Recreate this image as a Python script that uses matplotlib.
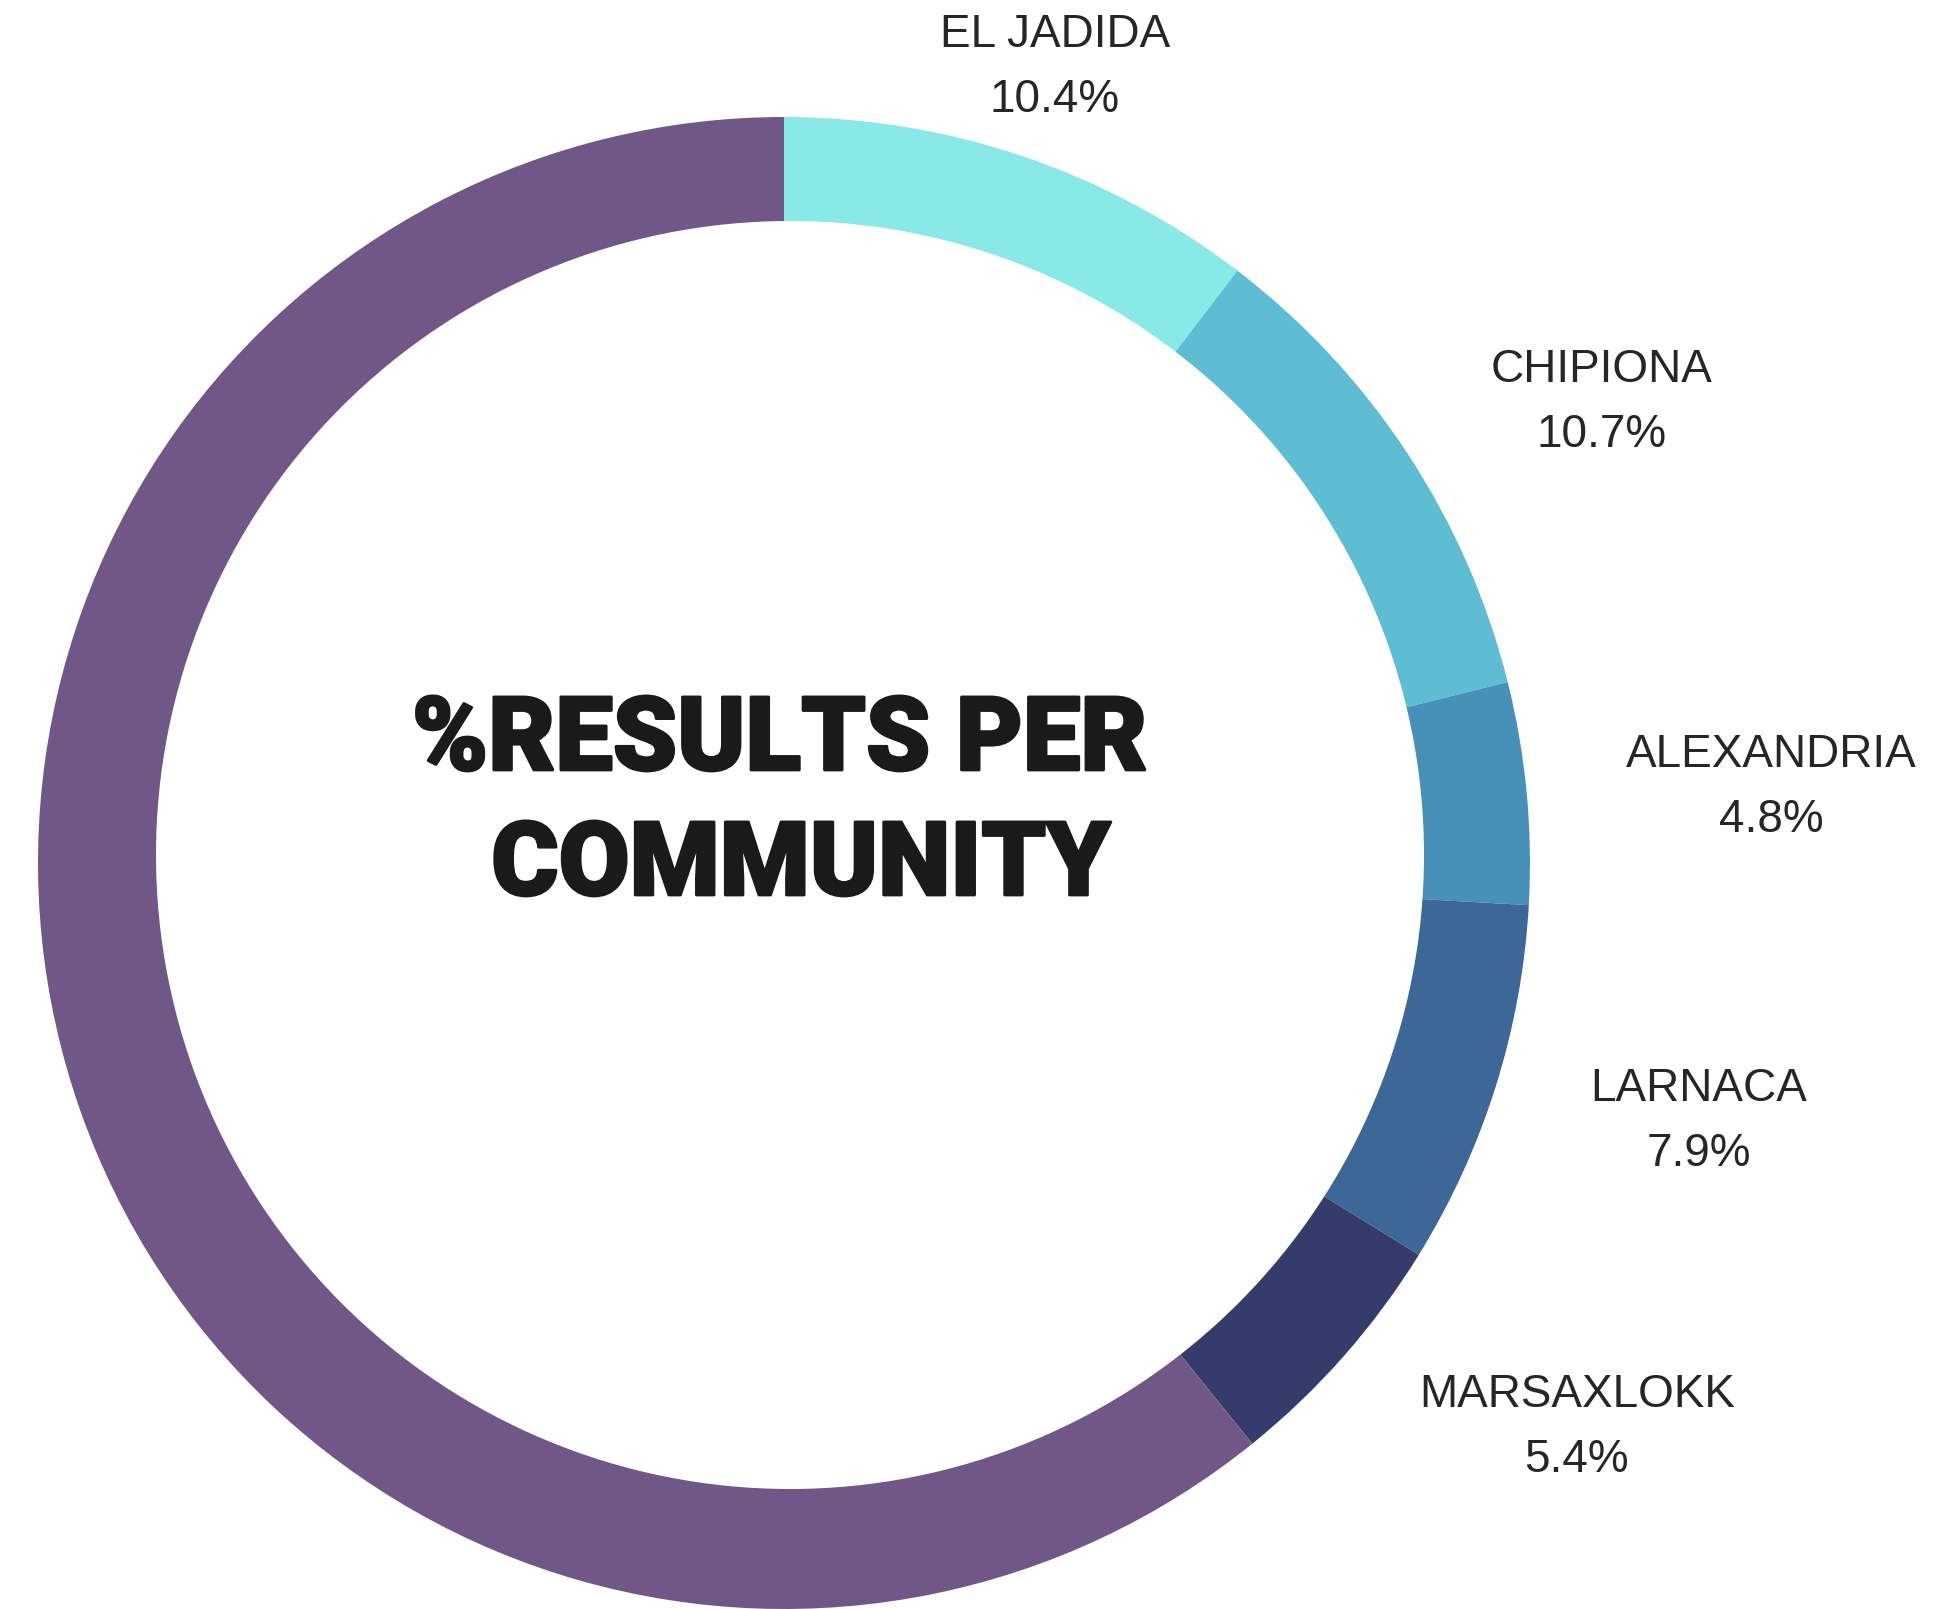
import matplotlib.pyplot as plt
import matplotlib.patheffects as pe
from matplotlib.patches import Circle

# share of results per community (the unlabeled remainder is drawn in purple)
communities = ['EL JADIDA', 'CHIPIONA', 'ALEXANDRIA', 'LARNACA', 'MARSAXLOKK', '']
shares = [10.4, 10.7, 4.8, 7.9, 5.4, 60.8]
colors = ['#89e9e7', '#5ebcd3', '#4791b9', '#3c6796', '#353c6c', '#715787']

# label anchors (pixel coords, y measured from the top) of the name line
label_pos = [(1055, 47), (1602, 382), (1771, 767), (1699, 1101), (1577, 1407)]

W, H = 1956, 1609
fig = plt.figure(figsize=(W / 100, H / 100), dpi=100)
ax = fig.add_axes([0, 0, 1, 1])

cx, cy, r = 784, H - 863, 746
ax.pie(shares, colors=colors, startangle=90, counterclock=False,
       center=(cx, cy), radius=r, wedgeprops=dict(linewidth=0))
# the hole sits a little right of and above the ring's centre
ax.add_patch(Circle((cx + 6, cy + 8), 634, facecolor='white', linewidth=0))
ax.set_xlim(0, W)
ax.set_ylim(0, H)
ax.set_aspect('equal')
ax.axis('off')

label_font = ['Liberation Sans', 'DejaVu Sans']
for name, val, (x, y) in zip(communities, shares, label_pos):
    ax.text(x, H - y, name, ha='center', va='baseline', fontsize=33,
            family=label_font, color='#262626')
    ax.text(x, H - y - 65, f'{val:.1f}%', ha='center', va='baseline',
            fontsize=33, family=label_font, color='#262626')

title_font = ['Roboto', 'DejaVu Sans']
heavy = [pe.withStroke(linewidth=2, foreground='#1a1a1a')]
ax.text(780, H - 770, '%RESULTS PER', ha='center', va='baseline',
        fontsize=74, fontweight='black', family=title_font, color='#1a1a1a',
        path_effects=heavy)
ax.text(801, H - 895, 'COMMUNITY', ha='center', va='baseline',
        fontsize=74, fontweight='black', family=title_font, color='#1a1a1a',
        path_effects=heavy)

fig.savefig('out.png', dpi=100, facecolor='white')
